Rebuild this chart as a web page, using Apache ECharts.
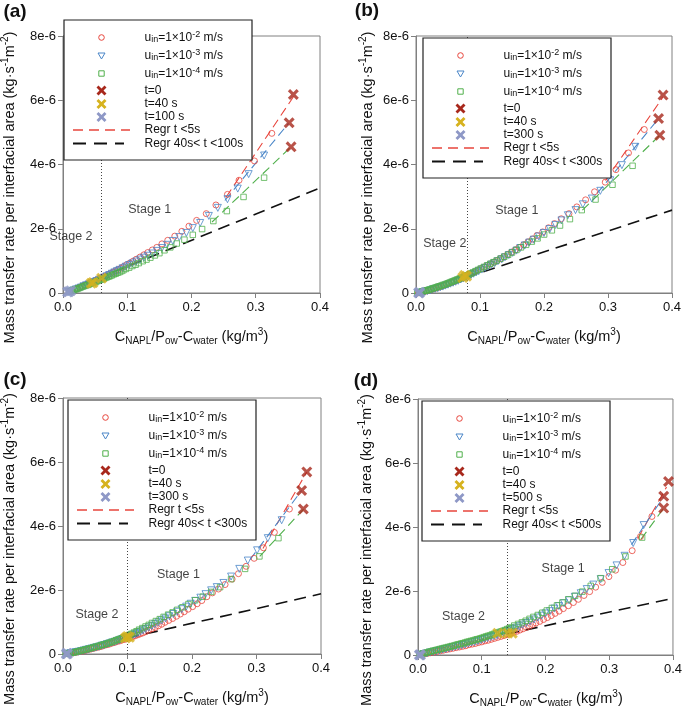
<!DOCTYPE html>
<html>
<head>
<meta charset="utf-8">
<script src="https://cdn.jsdelivr.net/npm/echarts@6/dist/echarts.min.js"></script>
<style>
html, body { margin: 0; padding: 0; background: #fff; }
#main { width: 685px; height: 709px; }
</style>
</head>
<body>
<div id="main"></div>
<script>
// x: C_NAPL/P_ow - C_water (kg/m3), y: mass transfer rate in 1e-6 kg/(s m2)

// ---- panel (a) ----
const a_u2 = [[0.325,4.97],[0.298,4.11],[0.274,3.51],[0.256,3.07],[0.238,2.74],[0.223,2.47],[0.208,2.26],[0.196,2.08],[0.185,1.92],[0.174,1.77],[0.163,1.64],[0.154,1.53],[0.146,1.42],[0.139,1.34],[0.132,1.26],[0.126,1.19],[0.120,1.12],[0.114,1.05],[0.109,0.99],[0.104,0.93],[0.099,0.88],[0.094,0.82],[0.090,0.77],[0.086,0.73],[0.082,0.69],[0.078,0.65],[0.074,0.61],[0.070,0.57],[0.066,0.53],[0.062,0.50],[0.058,0.46],[0.054,0.42],[0.050,0.39],[0.046,0.35],[0.042,0.32],[0.038,0.28],[0.034,0.25],[0.030,0.21],[0.026,0.18],[0.022,0.15],[0.018,0.11],[0.014,0.08],[0.010,0.05]];
const a_u3 = [[0.313,4.28],[0.289,3.70],[0.272,3.25],[0.256,2.92],[0.241,2.65],[0.227,2.40],[0.2135,2.18],[0.202,2.02],[0.192,1.87],[0.181,1.74],[0.171,1.62],[0.162,1.50],[0.154,1.40],[0.146,1.31],[0.139,1.23],[0.132,1.16],[0.126,1.10],[0.120,1.04],[0.114,0.98],[0.108,0.92],[0.103,0.87],[0.098,0.82],[0.093,0.77],[0.088,0.72],[0.084,0.68],[0.080,0.64],[0.076,0.60],[0.072,0.56],[0.068,0.52],[0.064,0.48],[0.060,0.44],[0.056,0.41],[0.052,0.37],[0.048,0.34],[0.044,0.30],[0.040,0.27],[0.036,0.24],[0.032,0.21],[0.028,0.17],[0.024,0.14],[0.020,0.11],[0.016,0.08],[0.012,0.05],[0.009,0.03]];
const a_u4 = [[0.313,3.59],[0.281,2.99],[0.255,2.55],[0.234,2.24],[0.2165,1.99],[0.202,1.81],[0.189,1.66],[0.177,1.54],[0.167,1.42],[0.158,1.33],[0.150,1.24],[0.143,1.17],[0.136,1.10],[0.130,1.04],[0.124,0.99],[0.118,0.93],[0.113,0.88],[0.108,0.84],[0.103,0.79],[0.098,0.75],[0.094,0.71],[0.091,0.68],[0.088,0.65],[0.085,0.63],[0.082,0.60],[0.079,0.58],[0.076,0.55],[0.0735,0.53],[0.071,0.51],[0.0685,0.49],[0.066,0.47],[0.0635,0.45],[0.061,0.43],[0.0585,0.41],[0.056,0.39],[0.0535,0.37],[0.051,0.35],[0.0485,0.33],[0.046,0.31],[0.0435,0.29],[0.041,0.27],[0.0385,0.25],[0.036,0.24],[0.0335,0.22],[0.031,0.20],[0.0285,0.18],[0.026,0.16],[0.0235,0.14],[0.021,0.12],[0.0185,0.11],[0.016,0.09],[0.0135,0.07],[0.011,0.05]];
const a_regr2 = [[0.254,2.99],[0.359,6.12]];
const a_regr3 = [[0.252,2.88],[0.351,5.28]];
const a_regr4 = [[0.232,2.21],[0.355,4.55]];
const a_regrLate = [[0.05,0.42],[0.4,3.27]];
const a_t0 = [[0.3585,6.18],[0.352,5.30],[0.355,4.55]];
const a_t40 = [[0.060,0.46],[0.047,0.33],[0.044,0.30]];
const a_tEnd = [[0.012,0.07],[0.009,0.04],[0.007,0.03]];
const a_stages = [[0.135,2.6,'Stage 1'],[0.0125,1.75,'Stage 2']];
const a_split = 0.056;

// ---- panel (b) ----
const b_u2 = [[0.3567,5.09],[0.332,4.36],[0.3124,3.84],[0.2957,3.45],[0.279,3.15],[0.265,2.90],[0.2513,2.68],[0.239,2.47],[0.227,2.31],[0.2164,2.16],[0.207,2.03],[0.198,1.90],[0.189,1.79],[0.182,1.68],[0.175,1.59],[0.168,1.50],[0.161,1.42],[0.155,1.34],[0.149,1.27],[0.143,1.20],[0.137,1.13],[0.132,1.07],[0.127,1.01],[0.122,0.96],[0.117,0.91],[0.112,0.86],[0.107,0.81],[0.102,0.76],[0.097,0.71],[0.092,0.66],[0.088,0.62],[0.084,0.58],[0.080,0.54],[0.076,0.51],[0.072,0.47],[0.068,0.43],[0.064,0.40],[0.060,0.36],[0.056,0.33],[0.052,0.30],[0.048,0.27],[0.044,0.24],[0.040,0.21],[0.036,0.18],[0.032,0.16],[0.028,0.13],[0.024,0.11],[0.020,0.08],[0.016,0.06],[0.012,0.04],[0.008,0.02],[0.004,0.01]];
const b_u3 = [[0.3426,4.55],[0.3217,3.98],[0.3035,3.51],[0.288,3.18],[0.2748,2.94],[0.2607,2.76],[0.2492,2.58],[0.2373,2.42],[0.2273,2.26],[0.218,2.12],[0.209,1.99],[0.200,1.87],[0.192,1.76],[0.184,1.66],[0.177,1.57],[0.170,1.48],[0.163,1.40],[0.157,1.32],[0.151,1.25],[0.145,1.18],[0.139,1.11],[0.134,1.05],[0.128,0.99],[0.123,0.93],[0.118,0.88],[0.113,0.83],[0.108,0.78],[0.103,0.73],[0.098,0.68],[0.094,0.64],[0.090,0.60],[0.086,0.56],[0.082,0.52],[0.078,0.49],[0.074,0.45],[0.070,0.42],[0.066,0.38],[0.062,0.35],[0.058,0.32],[0.054,0.29],[0.050,0.26],[0.046,0.23],[0.042,0.20],[0.038,0.18],[0.034,0.15],[0.030,0.13],[0.026,0.11],[0.022,0.08],[0.018,0.06],[0.014,0.04],[0.010,0.02],[0.006,0.01]];
const b_u4 = [[0.3384,3.96],[0.307,3.37],[0.2805,2.91],[0.259,2.58],[0.2405,2.30],[0.225,2.10],[0.2123,1.95],[0.2002,1.82],[0.190,1.70],[0.181,1.60],[0.172,1.50],[0.164,1.42],[0.157,1.34],[0.150,1.26],[0.144,1.19],[0.138,1.13],[0.132,1.07],[0.126,1.01],[0.121,0.96],[0.116,0.91],[0.111,0.86],[0.106,0.81],[0.101,0.76],[0.097,0.72],[0.093,0.68],[0.089,0.64],[0.086,0.61],[0.083,0.58],[0.080,0.55],[0.077,0.53],[0.0745,0.51],[0.072,0.48],[0.0695,0.46],[0.067,0.44],[0.0645,0.42],[0.062,0.40],[0.0595,0.38],[0.057,0.36],[0.0545,0.34],[0.052,0.32],[0.0495,0.30],[0.047,0.28],[0.0445,0.26],[0.042,0.25],[0.0395,0.23],[0.037,0.21],[0.0345,0.20],[0.032,0.18],[0.0295,0.16],[0.027,0.15],[0.0245,0.13],[0.022,0.11],[0.0195,0.10],[0.017,0.08],[0.0145,0.07],[0.012,0.06],[0.0095,0.05],[0.007,0.03],[0.0045,0.02],[0.002,0.01]];
const b_regr2 = [[0.296,3.5],[0.386,6.1]];
const b_regr3 = [[0.283,3.1],[0.379,5.43]];
const b_regr4 = [[0.26,2.58],[0.381,4.91]];
const b_regrLate = [[0.077,0.48],[0.4,2.58]];
const b_t0 = [[0.386,6.16],[0.379,5.43],[0.381,4.91]];
const b_t40 = [[0.073,0.48],[0.076,0.55],[0.079,0.52]];
const b_tEnd = [[0.004,0.01],[0.005,0.0],[0.006,0.02]];
const b_stages = [[0.1575,2.58,'Stage 1'],[0.045,1.54,'Stage 2']];
const b_split = 0.08;

// ---- panel (c) ----
const c_u2 = [[0.351,4.53],[0.3277,3.80],[0.3107,3.32],[0.2963,2.99],[0.2839,2.74],[0.272,2.51],[0.2622,2.34],[0.2513,2.17],[0.241,2.03],[0.2317,1.91],[0.223,1.79],[0.2152,1.67],[0.208,1.57],[0.201,1.48],[0.194,1.40],[0.188,1.32],[0.182,1.25],[0.176,1.18],[0.170,1.11],[0.164,1.05],[0.158,0.99],[0.153,0.93],[0.148,0.88],[0.143,0.83],[0.138,0.79],[0.133,0.74],[0.128,0.70],[0.124,0.66],[0.120,0.63],[0.116,0.60],[0.112,0.57],[0.108,0.54],[0.104,0.52],[0.100,0.49],[0.096,0.46],[0.092,0.44],[0.088,0.41],[0.084,0.39],[0.080,0.36],[0.076,0.34],[0.072,0.31],[0.068,0.29],[0.064,0.27],[0.060,0.24],[0.056,0.22],[0.052,0.20],[0.048,0.18],[0.044,0.16],[0.040,0.14],[0.036,0.12],[0.032,0.10],[0.028,0.08],[0.024,0.07],[0.020,0.05],[0.016,0.04],[0.012,0.02],[0.008,0.01]];
const c_u3 = [[0.339,4.18],[0.3175,3.62],[0.3009,3.24],[0.2865,2.92],[0.2733,2.66],[0.2606,2.42],[0.2487,2.22],[0.2384,2.09],[0.2297,1.99],[0.221,1.87],[0.213,1.76],[0.205,1.66],[0.198,1.57],[0.191,1.48],[0.184,1.40],[0.177,1.32],[0.171,1.25],[0.165,1.18],[0.159,1.11],[0.153,1.05],[0.148,0.99],[0.143,0.94],[0.138,0.88],[0.133,0.83],[0.128,0.78],[0.124,0.74],[0.120,0.70],[0.116,0.66],[0.112,0.62],[0.108,0.59],[0.104,0.56],[0.100,0.53],[0.096,0.50],[0.092,0.47],[0.088,0.44],[0.084,0.41],[0.080,0.38],[0.076,0.36],[0.072,0.33],[0.068,0.31],[0.064,0.28],[0.060,0.26],[0.056,0.23],[0.052,0.21],[0.048,0.19],[0.044,0.17],[0.040,0.15],[0.036,0.13],[0.032,0.11],[0.028,0.09],[0.024,0.07],[0.020,0.06],[0.016,0.04],[0.012,0.03],[0.008,0.01]];
const c_u4 = [[0.334,3.62],[0.3045,3.05],[0.2823,2.66],[0.2606,2.34],[0.2436,2.09],[0.2297,1.94],[0.2168,1.79],[0.2049,1.68],[0.1945,1.56],[0.1852,1.46],[0.177,1.38],[0.170,1.30],[0.163,1.23],[0.156,1.16],[0.150,1.09],[0.144,1.03],[0.138,0.97],[0.133,0.91],[0.128,0.86],[0.123,0.81],[0.118,0.76],[0.114,0.71],[0.110,0.67],[0.106,0.63],[0.103,0.60],[0.100,0.57],[0.097,0.55],[0.094,0.52],[0.091,0.49],[0.088,0.47],[0.085,0.45],[0.082,0.43],[0.079,0.40],[0.076,0.38],[0.073,0.36],[0.070,0.34],[0.067,0.32],[0.064,0.30],[0.061,0.29],[0.058,0.27],[0.055,0.25],[0.052,0.23],[0.049,0.22],[0.046,0.20],[0.043,0.18],[0.040,0.17],[0.037,0.15],[0.034,0.14],[0.031,0.12],[0.028,0.11],[0.025,0.09],[0.022,0.08],[0.019,0.06],[0.016,0.05],[0.013,0.04],[0.010,0.03],[0.007,0.02],[0.004,0.01]];
const c_regr2 = [[0.31,3.3],[0.378,5.69]];
const c_regr3 = [[0.29,2.95],[0.370,5.11]];
const c_regr4 = [[0.305,3.05],[0.373,4.53]];
const c_regrLate = [[0.1,0.5],[0.4,1.88]];
const c_t0 = [[0.378,5.69],[0.370,5.11],[0.3726,4.53]];
const c_t40 = [[0.097,0.50],[0.100,0.55],[0.103,0.52]];
const c_tEnd = [[0.005,0.0],[0.007,0.01],[0.006,0.02]];
const c_stages = [[0.179,2.48,'Stage 1'],[0.0526,1.23,'Stage 2']];
const c_split = 0.1;

// ---- panel (d) ----
const d_u2 = [[0.367,4.33],[0.349,3.70],[0.336,3.26],[0.3214,2.89],[0.31,2.65],[0.2995,2.45],[0.289,2.27],[0.2787,2.12],[0.2693,1.98],[0.2604,1.86],[0.2516,1.74],[0.2438,1.64],[0.236,1.54],[0.228,1.45],[0.2214,1.37],[0.215,1.30],[0.209,1.23],[0.203,1.17],[0.197,1.11],[0.191,1.05],[0.185,1.00],[0.180,0.95],[0.175,0.90],[0.170,0.86],[0.165,0.82],[0.160,0.78],[0.155,0.74],[0.150,0.71],[0.145,0.67],[0.140,0.64],[0.135,0.61],[0.130,0.58],[0.125,0.55],[0.120,0.52],[0.115,0.49],[0.110,0.46],[0.105,0.44],[0.100,0.41],[0.095,0.39],[0.090,0.36],[0.085,0.34],[0.080,0.32],[0.075,0.29],[0.070,0.27],[0.065,0.25],[0.060,0.23],[0.055,0.21],[0.050,0.19],[0.045,0.17],[0.040,0.15],[0.035,0.13],[0.030,0.11],[0.025,0.09],[0.020,0.07],[0.015,0.05],[0.010,0.03],[0.005,0.01]];
const d_u3 = [[0.354,4.06],[0.3376,3.50],[0.324,3.10],[0.3115,2.80],[0.2989,2.56],[0.2866,2.37],[0.275,2.20],[0.2647,2.06],[0.2553,1.93],[0.246,1.82],[0.237,1.71],[0.229,1.62],[0.221,1.53],[0.214,1.45],[0.207,1.37],[0.200,1.30],[0.194,1.23],[0.188,1.17],[0.182,1.11],[0.176,1.05],[0.170,1.00],[0.164,0.95],[0.159,0.90],[0.154,0.85],[0.149,0.81],[0.144,0.77],[0.139,0.73],[0.134,0.69],[0.129,0.66],[0.124,0.62],[0.119,0.59],[0.114,0.56],[0.109,0.53],[0.104,0.50],[0.099,0.47],[0.094,0.44],[0.089,0.41],[0.084,0.39],[0.079,0.36],[0.074,0.33],[0.069,0.31],[0.064,0.28],[0.059,0.26],[0.054,0.24],[0.049,0.21],[0.044,0.19],[0.039,0.17],[0.034,0.14],[0.029,0.12],[0.024,0.10],[0.019,0.08],[0.014,0.05],[0.009,0.03],[0.004,0.01]];
const d_u4 = [[0.3516,3.67],[0.3255,3.08],[0.3047,2.68],[0.2865,2.40],[0.271,2.16],[0.2578,1.98],[0.2464,1.85],[0.2359,1.74],[0.2266,1.64],[0.218,1.55],[0.210,1.47],[0.202,1.39],[0.195,1.32],[0.188,1.25],[0.181,1.19],[0.175,1.13],[0.169,1.07],[0.163,1.02],[0.157,0.97],[0.151,0.92],[0.146,0.86],[0.143,0.83],[0.140,0.81],[0.137,0.78],[0.134,0.76],[0.131,0.74],[0.128,0.72],[0.125,0.70],[0.122,0.68],[0.119,0.66],[0.116,0.64],[0.113,0.61],[0.110,0.60],[0.107,0.58],[0.104,0.56],[0.101,0.54],[0.098,0.52],[0.095,0.50],[0.092,0.49],[0.089,0.47],[0.086,0.45],[0.083,0.44],[0.080,0.42],[0.077,0.41],[0.074,0.39],[0.071,0.37],[0.068,0.36],[0.065,0.34],[0.062,0.33],[0.059,0.31],[0.056,0.29],[0.053,0.28],[0.050,0.26],[0.047,0.25],[0.044,0.23],[0.041,0.22],[0.038,0.20],[0.035,0.19],[0.032,0.17],[0.029,0.16],[0.026,0.14],[0.023,0.13],[0.020,0.11],[0.017,0.10],[0.014,0.08],[0.011,0.06],[0.008,0.05],[0.005,0.03],[0.002,0.01]];
const d_regr2 = [[0.345,3.65],[0.390,5.25]];
const d_regr3 = [[0.335,3.45],[0.3855,4.95]];
const d_regr4 = [[0.35,3.62],[0.3855,4.59]];
const d_regrLate = [[0.14,0.66],[0.4,1.77]];
const d_t0 = [[0.393,5.42],[0.3855,4.96],[0.3855,4.59]];
const d_t40 = [[0.125,0.68],[0.141,0.68],[0.148,0.68]];
const d_tEnd = [[0.002,0.0],[0.003,0.01],[0.004,0.0]];
const d_stages = [[0.2277,2.71,'Stage 1'],[0.0714,1.2,'Stage 2']];
const d_split = 0.138;

const panelLetters = ['(a)', '(b)', '(c)', '(d)'];
const tEndLabels = ['t=100 s', 't=300 s', 't=300 s', 't=500 s'];
const regrLateLabels = ['Regr 40s< t <100s', 'Regr 40s< t <300s', 'Regr 40s< t <300s', 'Regr 40s< t <500s'];
const uLabels = ['u{sub|in}=1×10{sup|-2} m/s', 'u{sub|in}=1×10{sup|-3} m/s', 'u{sub|in}=1×10{sup|-4} m/s'];

const panels = [
  {u2: a_u2, u3: a_u3, u4: a_u4, r2: a_regr2, r3: a_regr3, r4: a_regr4, late: a_regrLate, t0: a_t0, t40: a_t40, tEnd: a_tEnd, stages: a_stages, split: a_split},
  {u2: b_u2, u3: b_u3, u4: b_u4, r2: b_regr2, r3: b_regr3, r4: b_regr4, late: b_regrLate, t0: b_t0, t40: b_t40, tEnd: b_tEnd, stages: b_stages, split: b_split},
  {u2: c_u2, u3: c_u3, u4: c_u4, r2: c_regr2, r3: c_regr3, r4: c_regr4, late: c_regrLate, t0: c_t0, t40: c_t40, tEnd: c_tEnd, stages: c_stages, split: c_split},
  {u2: d_u2, u3: d_u3, u4: d_u4, r2: d_regr2, r3: d_regr3, r4: d_regr4, late: d_regrLate, t0: d_t0, t40: d_t40, tEnd: d_tEnd, stages: d_stages, split: d_split}
];

const RED = '#e8453c', BLUE = '#4a86c8', GREEN = '#50b04c';
const T0C = '#a8281c', T40C = '#d6b21e', TENDC = '#8e98c6';
const FONT = 'Liberation Sans, Arial, sans-serif';
const CROSS = 'path://M2,0L5,3L8,0L10,2L7,5L10,8L8,10L5,7L2,10L0,8L3,5L0,2Z';

// layout
const grids = [
  {left: 63, top: 36, width: 257, height: 257},
  {left: 416, top: 36, width: 256, height: 257},
  {left: 63, top: 398, width: 258, height: 256},
  {left: 418, top: 399, width: 256, height: 256}
];
const legendPos = [[64, 20], [423, 38], [68, 400], [422, 401]];
const letterPos = [[15, 12], [367, 11], [15, 380], [366, 381]];
const yTitleX = [10, 368, 10, 367];

const rich = {
  sub: {fontSize: 9, lineHeight: 11, verticalAlign: 'bottom', fontFamily: FONT},
  sup: {fontSize: 9, lineHeight: 11, verticalAlign: 'top', fontFamily: FONT}
};
const richTitle = {
  sub: {fontSize: 10, lineHeight: 12, verticalAlign: 'bottom', fontFamily: FONT},
  sup: {fontSize: 10, lineHeight: 12, verticalAlign: 'top', fontFamily: FONT}
};

function crossPoints(cx, cy, s) {
  const p = [[2,0],[5,3],[8,0],[10,2],[7,5],[10,8],[8,10],[5,7],[2,10],[0,8],[3,5],[0,2]];
  return p.map(q => [cx - s / 2 + q[0] * s / 10, cy - s / 2 + q[1] * s / 10]);
}

function legendGroup(i) {
  const rows = [17.5, 35.5, 53.5, 70.5, 84, 97, 110, 123.5];
  const sx = 37.5, tx = 80.5;
  const z = 100;
  const texts = uLabels.concat(['t=0', 't=40 s', tEndLabels[i], 'Regr t <5s', regrLateLabels[i]]);
  const children = [
    {type: 'rect', z, shape: {x: 0, y: 0, width: 188, height: 140}, style: {fill: '#fff', stroke: '#222', lineWidth: 1.2}},
    {type: 'circle', z, shape: {cx: sx, cy: rows[0], r: 2.8}, style: {fill: 'none', stroke: RED, lineWidth: 1}},
    {type: 'polygon', z, shape: {points: [[sx - 3.5, rows[1] - 2.5], [sx + 3.5, rows[1] - 2.5], [sx, rows[1] + 3.5]]}, style: {fill: 'none', stroke: BLUE, lineWidth: 1}},
    {type: 'rect', z, shape: {x: sx - 2.7, y: rows[2] - 2.7, width: 5.4, height: 5.4}, style: {fill: 'none', stroke: GREEN, lineWidth: 1}},
    {type: 'polygon', z, shape: {points: crossPoints(sx, rows[3], 10)}, style: {fill: T0C}},
    {type: 'polygon', z, shape: {points: crossPoints(sx, rows[4], 10)}, style: {fill: T40C}},
    {type: 'polygon', z, shape: {points: crossPoints(sx, rows[5], 10)}, style: {fill: TENDC}},
    {type: 'line', z, shape: {x1: 9, y1: rows[6], x2: 66, y2: rows[6]}, style: {stroke: RED, lineWidth: 1.3, lineDash: [10, 6]}},
    {type: 'line', z, shape: {x1: 9, y1: rows[7], x2: 60, y2: rows[7]}, style: {stroke: '#111', lineWidth: 1.8, lineDash: [13, 8]}}
  ];
  texts.forEach((t, k) => {
    children.push({
      type: 'text', z, x: tx, y: rows[k],
      style: {text: t, rich, fontSize: 12, lineHeight: 14, fontFamily: FONT, fill: '#111', verticalAlign: 'middle'}
    });
  });
  return {type: 'group', x: legendPos[i][0], y: legendPos[i][1], z, children};
}

function panelSeries(i, p) {
  const ax = {xAxisIndex: i, yAxisIndex: i};
  const regr = (data, color) => Object.assign({
    type: 'line', data, symbol: 'none', silent: true,
    lineStyle: {color, width: 1.1, type: [9, 5]}, z: 3
  }, ax);
  const marker = (data, color, symbol, size, rotate) => Object.assign({
    type: 'scatter', data, symbol, symbolSize: size, symbolRotate: rotate || 0, silent: true,
    itemStyle: {color: 'rgba(0,0,0,0)', borderColor: color, borderWidth: 1}, z: 4
  }, ax);
  const cross = (data, color) => Object.assign({
    type: 'scatter', data, symbol: CROSS, symbolSize: 11, silent: true,
    itemStyle: {color}, z: 6
  }, ax);
  return [
    Object.assign({
      type: 'line', data: p.late, symbol: 'none', silent: true,
      lineStyle: {color: '#111', width: 1.6, type: [12, 7]}, z: 3,
      markLine: {
        silent: true, symbol: 'none', label: {show: false},
        lineStyle: {color: '#444', type: [1, 2], width: 1},
        data: [{xAxis: p.split}]
      }
    }, ax),
    marker(p.u2, RED, 'circle', 6),
    marker(p.u3, BLUE, 'triangle', 7, 180),
    marker(p.u4, GREEN, 'rect', 5.5),
    regr(p.r2, RED),
    regr(p.r3, BLUE),
    regr(p.r4, GREEN),
    cross(p.t0, T0C),
    cross(p.t40, T40C),
    cross(p.tEnd, TENDC),
    Object.assign({
      type: 'scatter', data: p.stages, symbolSize: 1, silent: true,
      itemStyle: {color: 'rgba(0,0,0,0)'},
      label: {show: true, position: 'inside', formatter: d => d.data[2], color: '#111', fontSize: 12.5, fontFamily: FONT},
      z: 5
    }, ax)
  ];
}

const chart = echarts.init(document.getElementById('main'));

const graphics = [];
panels.forEach((p, i) => {
  const g = grids[i];
  graphics.push(legendGroup(i));
  graphics.push({
    type: 'text', x: letterPos[i][0], y: letterPos[i][1], z: 100,
    style: {text: panelLetters[i], fontSize: 19, fontWeight: 'bold', fontFamily: FONT, fill: '#111', align: 'center', verticalAlign: 'middle'}
  });
  graphics.push({
    type: 'text', x: yTitleX[i], y: g.top + g.height / 2 + 23, rotation: Math.PI / 2, z: 100,
    style: {text: 'Mass transfer rate per interfacial area (kg·s{sup|-1}m{sup|-2})', rich: richTitle, fontSize: 14.5, lineHeight: 19, fontFamily: FONT, fill: '#111', align: 'center', verticalAlign: 'middle'}
  });
  graphics.push({
    type: 'text', x: g.left + g.width / 2, y: g.top + g.height + 44, z: 100,
    style: {text: 'C{sub|NAPL}/P{sub|ow}-C{sub|water} (kg/m{sup|3})', rich: richTitle, fontSize: 14.5, lineHeight: 19, fontFamily: FONT, fill: '#111', align: 'center', verticalAlign: 'middle'}
  });
});

const option = {
  animation: false,
  backgroundColor: '#fff',
  grid: grids.map(g => Object.assign({show: true, borderColor: '#808080', borderWidth: 1, backgroundColor: 'transparent'}, g)),
  xAxis: grids.map((g, i) => ({
    type: 'value', gridIndex: i, min: 0, max: 0.4, interval: 0.1,
    axisLine: {show: true, onZero: false, lineStyle: {color: '#808080'}},
    axisTick: {show: true, length: 5, lineStyle: {color: '#808080'}},
    splitLine: {show: false},
    axisLabel: {color: '#111', fontSize: 13, fontFamily: FONT, margin: 8, formatter: v => v.toFixed(1)}
  })),
  yAxis: grids.map((g, i) => ({
    type: 'value', gridIndex: i, min: 0, max: 8, interval: 2,
    axisLine: {show: true, onZero: false, lineStyle: {color: '#808080'}},
    axisTick: {show: true, length: 5, lineStyle: {color: '#808080'}},
    splitLine: {show: false},
    axisLabel: {color: '#111', fontSize: 13, fontFamily: FONT, margin: 7, formatter: v => (v === 0 ? '0' : v + 'e-6')}
  })),
  series: panels.flatMap((p, i) => panelSeries(i, p)),
  graphic: graphics
};

chart.setOption(option);
</script>
</body>
</html>
